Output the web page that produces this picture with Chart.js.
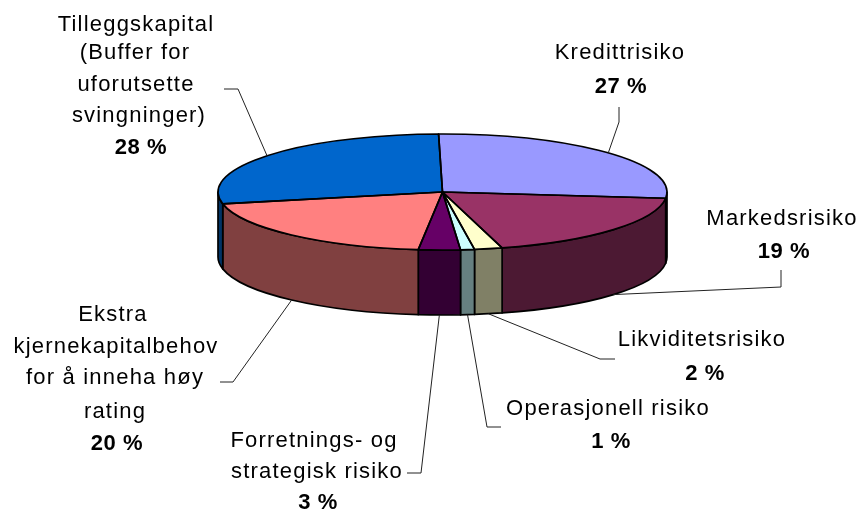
<!DOCTYPE html>
<html>
<head>
<meta charset="utf-8">
<style>html,body{margin:0;padding:0;background:#fff}canvas{display:block}</style>
<script src="https://cdn.jsdelivr.net/npm/chart.js@4"></script>
</head>
<body>
<canvas id="c" width="859" height="512"></canvas>
<script>
const categories = ['Kredittrisiko','Markedsrisiko','Likviditetsrisiko','Operasjonell risiko','Forretnings- og strategisk risiko','Ekstra kjernekapitalbehov for å inneha høy rating','Tilleggskapital (Buffer for uforutsette svingninger)'];
const values = [27,19,2,1,3,20,28];
const topColors = ['#9999FF','#993366','#FFFFCC','#CCFFFF','#660066','#FF8080','#0066CC'];
const wallColors = ['#4C4C80','#4C1933','#808066','#668080','#330033','#804040','#003366'];
const labelLines = [
  ['Kredittrisiko'],
  ['Markedsrisiko'],
  ['Likviditetsrisiko'],
  ['Operasjonell risiko'],
  ['Forretnings- og','strategisk risiko'],
  ['Ekstra','kjernekapitalbehov','for å inneha høy','rating'],
  ['Tilleggskapital','(Buffer for','uforutsette','svingninger)']
];
// text layout: [centre x, middle y] per line; the last entry is the bold percent line
const labelPos = [
  [[620,53],[621,87]],
  [[782,219],[784,252]],
  [[702,340],[705,374]],
  [[608,409],[611,442]],
  [[314,441],[317,472],[318,503]],
  [[113,315],[116,347],[115,378],[115,412],[117,444]],
  [[136,25],[135,53],[136,85],[139,116],[141,148]]
];
// leader line elbows, after the anchor on the pie edge
const leaderElbows = [
  [[619,122],[619,107]],
  [[781,287],[781,270]],
  [[600,359],[615,359]],
  [[487,427],[501,427]],
  [[421,473],[407,473]],
  [[233,382],[220,382]],
  [[238,89],[224,89]]
];
const SQUASH = 58/224.5, DEPTH = 65;

const pie3d = {
  id:'pie3d',
  beforeDatasetsDraw(chart){
    const ctx = chart.ctx, arcs = chart.getDatasetMeta(0).data;
    ctx.save();
    ctx.lineWidth = 1.7; ctx.strokeStyle = '#000'; ctx.lineJoin = 'round';
    arcs.forEach((a,i)=>{
      const s = Math.max(a.startAngle,0), e = Math.min(a.endAngle,Math.PI);
      if (e <= s) return;
      const R = a.outerRadius, r = R*SQUASH;
      ctx.beginPath();
      ctx.ellipse(a.x,a.y,R,r,0,s,e);
      ctx.ellipse(a.x,a.y+DEPTH,R,r,0,e,s,true);
      ctx.closePath();
      ctx.fillStyle = wallColors[i];
      ctx.fill(); ctx.stroke();
    });
    ctx.restore();
    const a0 = arcs[0];
    ctx.save();
    ctx.translate(0,a0.y); ctx.scale(1,SQUASH); ctx.translate(0,-a0.y);
  },
  afterDatasetsDraw(chart){
    const ctx = chart.ctx, arcs = chart.getDatasetMeta(0).data;
    ctx.restore();
    ctx.save();
    ctx.lineWidth = 1.7; ctx.strokeStyle = '#000'; ctx.lineJoin = 'round';
    arcs.forEach(a=>{
      const R = a.outerRadius, r = R*SQUASH;
      ctx.beginPath();
      ctx.moveTo(a.x,a.y);
      ctx.ellipse(a.x,a.y,R,r,0,a.startAngle,a.endAngle);
      ctx.closePath();
      ctx.stroke();
    });
    // leader lines
    ctx.lineWidth = 1; ctx.strokeStyle = '#222';
    arcs.forEach((a,i)=>{
      const m = (a.startAngle+a.endAngle)/2, R = a.outerRadius, r = R*SQUASH;
      const sinM = Math.sin(m);
      const ax = a.x+R*Math.cos(m), ay = a.y+r*sinM+(sinM>0?DEPTH:0);
      ctx.beginPath();
      ctx.moveTo(ax,ay);
      leaderElbows[i].forEach(p=>ctx.lineTo(p[0],p[1]));
      ctx.stroke();
    });
    // labels
    ctx.fillStyle = '#000'; ctx.textAlign = 'center'; ctx.textBaseline = 'middle';
    labelLines.forEach((lines,i)=>{
      ctx.font = '22px "Liberation Sans", Arial, sans-serif';
      ctx.letterSpacing = '1.2px';
      lines.forEach((t,j)=>ctx.fillText(t,labelPos[i][j][0],labelPos[i][j][1]));
      ctx.font = 'bold 22px "Liberation Sans", Arial, sans-serif';
      ctx.letterSpacing = '0.6px';
      const p = labelPos[i][lines.length];
      ctx.fillText(values[i]+' %',p[0],p[1]);
    });
    ctx.restore();
  }
};

new Chart(document.getElementById('c'),{
  type:'pie',
  data:{labels:categories,datasets:[{data:values,backgroundColor:topColors,borderWidth:0,radius:224.5,clip:false}]},
  options:{
    responsive:false,animation:false,rotation:-1,
    layout:{padding:{left:26,bottom:128}},
    plugins:{legend:{display:false},tooltip:{enabled:false}}
  },
  plugins:[pie3d]
});
</script>
</body>
</html>
